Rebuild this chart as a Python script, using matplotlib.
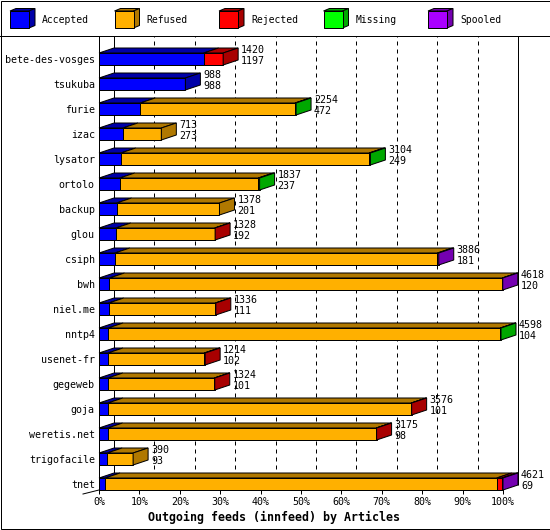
import matplotlib
matplotlib.use("Agg")
import matplotlib.pyplot as plt
from matplotlib.patches import Polygon, Rectangle

# datos (articulos por servidor)
hosts = ["bete-des-vosges", "tsukuba", "furie", "izac", "lysator", "ortolo",
         "backup", "glou", "csiph", "bwh", "niel.me", "nntp4", "usenet-fr",
         "gegeweb", "goja", "weretis.net", "trigofacile", "tnet"]
offered = [1420, 988, 2254, 713, 3104, 1837, 1378, 1328, 3886, 4618, 1336,
           4598, 1214, 1324, 3576, 3175, 390, 4621]
accepted = [1197, 988, 472, 273, 249, 237, 201, 192, 181, 120, 111, 104, 102,
            101, 101, 98, 93, 69]
refused = [0, 0, 1770, 440, 2840, 1585, 1177, 1132, 3690, 4493, 1221, 4486,
           1102, 1219, 3471, 3073, 297, 4480]
rejected = [223, 0, 0, 0, 0, 0, 0, 4, 0, 0, 4, 0, 10, 4, 4, 4, 0, 60]
missing = [0, 0, 12, 0, 15, 15, 0, 0, 0, 0, 0, 8, 0, 0, 0, 0, 0, 0]
spooled = [0, 0, 0, 0, 0, 0, 0, 0, 15, 5, 0, 0, 0, 0, 0, 0, 0, 12]

series = ["Accepted", "Refused", "Rejected", "Missing", "Spooled"]
front = ["#0000ff", "#ffb000", "#ff0000", "#00ff00", "#aa00ff"]
dark = ["#0000a8", "#b07800", "#a80000", "#00a800", "#7400b0"]
ticks = [0, 10, 20, 30, 40, 50, 60, 70, 80, 90, 100]

MONO = "DejaVu Sans Mono"
LW = 0.72

fig = plt.figure(figsize=(5.5, 5.3), dpi=100)

# fondo en pixeles: marco, leyenda, titulo
bg = fig.add_axes([0, 0, 1, 1])
bg.set_xlim(0, 550)
bg.set_ylim(530, 0)
bg.axis("off")
bg.add_patch(Rectangle((0.5, 0.5), 549, 528.5, fill=False, lw=LW, ec="black"))
bg.plot([0, 550], [35.5, 35.5], color="black", lw=LW)

for i, name in enumerate(series):
    x0 = 10 + i * 104.5
    y0, w, h, d, e = 11, 19, 17, 6, 2.5
    bg.add_patch(Polygon([(x0, y0), (x0 + d, y0 - e), (x0 + w + d, y0 - e), (x0 + w, y0)],
                         closed=True, fc=dark[i], ec="black", lw=LW))
    bg.add_patch(Polygon([(x0 + w, y0), (x0 + w + d, y0 - e), (x0 + w + d, y0 + h - e), (x0 + w, y0 + h)],
                         closed=True, fc=dark[i], ec="black", lw=LW))
    bg.add_patch(Rectangle((x0, y0), w, h, fc=front[i], ec="black", lw=LW))
    bg.text(x0 + 32, 20, name, family=MONO, fontsize=7, va="center", ha="left")

bg.text(274, 517, "Outgoing feeds (innfeed) by Articles", family=MONO,
        fontsize=8.4, fontweight="bold", ha="center", va="center")

# grafico principal
ax = fig.add_axes([99 / 550, 40 / 530, 404 / 550, 454 / 530])
ax.set_xlim(0, 100)
ax.set_ylim(17.24, -0.92)
ax.patch.set_visible(False)

DX = 15 * 100 / 404   # profundidad en x
DY = 0.2              # profundidad en y (filas)
H = 0.24              # media altura de la barra

floor = 17.24 - DY
ax.vlines([0 + DX, 100 + DX], floor, -0.92, colors="black", lw=LW, clip_on=False, zorder=1)
ax.vlines([t + DX for t in ticks[1:-1]], floor, -0.92, colors="black", lw=LW,
          linestyles=(0, (4, 4)), clip_on=False, zorder=1)
ax.plot([-16 * 100 / 404, 0], [17.24 + 4 / 25, 17.24], color="black", lw=LW,
        clip_on=False)

total_max = max(offered)
for r in range(len(hosts)):
    vals = [accepted[r], refused[r], rejected[r], missing[r], spooled[r]]
    top, bot = r - H, r + H
    x = 0.0
    last = None
    for k, v in enumerate(vals):
        if v <= 0:
            continue
        w = v / total_max * 100
        ax.add_patch(Polygon([(x, top), (x + DX, top - DY), (x + w + DX, top - DY), (x + w, top)],
                             closed=True, fc=dark[k], ec="black", lw=LW, clip_on=False, zorder=3))
        ax.add_patch(Rectangle((x, top), w, 2 * H, fc=front[k], ec="black", lw=LW,
                               clip_on=False, zorder=3))
        x += w
        last = k
    ax.add_patch(Polygon([(x, top), (x + DX, top - DY), (x + DX, bot - DY), (x, bot)],
                         closed=True, fc=dark[last], ec="black", lw=LW, clip_on=False, zorder=3))
    tx = x + DX + 3 * 100 / 404
    ax.text(tx, r - 0.36, str(offered[r]), family=MONO, fontsize=7.2, va="center", ha="left")
    ax.text(tx, r + 0.07, str(accepted[r]), family=MONO, fontsize=7.2, va="center", ha="left")

ax.set_xticks(ticks)
ax.set_xticklabels([f"{t}%" for t in ticks], family=MONO, fontsize=7.2)
ax.set_yticks(range(len(hosts)))
ax.set_yticklabels(hosts, family=MONO, fontsize=7.2)
ax.tick_params(axis="x", direction="out", length=2.9, width=LW, pad=2)
ax.tick_params(axis="y", length=0, pad=3)
for s in ["top", "right"]:
    ax.spines[s].set_visible(False)
for s in ["left", "bottom"]:
    ax.spines[s].set_linewidth(LW)
    ax.spines[s].set_zorder(4)

fig.savefig("out.png", dpi=100)
